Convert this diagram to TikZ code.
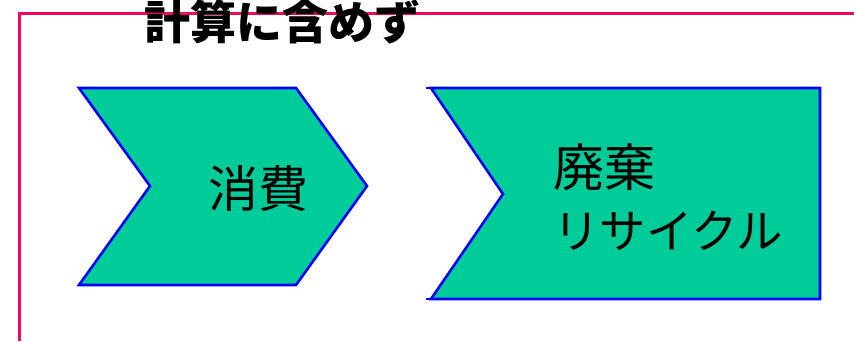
\documentclass[tikz,border=0pt]{standalone}
\usepackage{fontspec}
\newfontfamily\jpfont{Noto Sans CJK JP}
\newfontfamily\jpbold{Noto Sans CJK JP Black}
\definecolor{fillgreen}{HTML}{00CC99}
\definecolor{edgeblue}{HTML}{0000FF}
\definecolor{framepink}{HTML}{F0085A}
\tikzset{
  shapebox/.style={draw=edgeblue, fill=fillgreen, line width=2.6pt, line join=miter},
  frameline/.style={draw=framepink, line width=3pt},
  jptext/.style={font=\jpfont\fontsize{48}{62}\selectfont, inner sep=0pt},
  bigtext/.style={font=\jpfont\fontsize{50}{62}\selectfont, inner sep=0pt},
  titletext/.style={font=\jpbold\fontsize{46}{50}\selectfont, inner sep=0pt}
}
\begin{document}
\begin{tikzpicture}[x=1pt,y=-1pt]
\useasboundingbox (0,0) rectangle (854,341);
% frame
\draw[frameline] (19,341) -- (19,13) -- (854,13);
% chevron 1
\draw[shapebox] (79,88) -- (296,88) -- (367,186) -- (296,285) -- (79,285) -- (150,186) -- cycle;
% shape 2
\draw[shapebox] (431,88) -- (820,88) -- (820,299) -- (431,299) -- (503,194) -- cycle;
\draw[edgeblue, line width=1.2pt] (426,88) -- (431,88);
\draw[edgeblue, line width=1.2pt] (426,299) -- (431,299);
% texts
\node[titletext] (title) at (282,22) {計算に含めず};
\node[bigtext] (consume) at (258,189) {消費};
\node[jptext, anchor=west, align=left] (recycle) at (553,197) {{\fontsize{51}{62}\selectfont 廃棄}\\{\fontsize{46.5}{62}\selectfont リサイクル}};
\end{tikzpicture}
\end{document}
